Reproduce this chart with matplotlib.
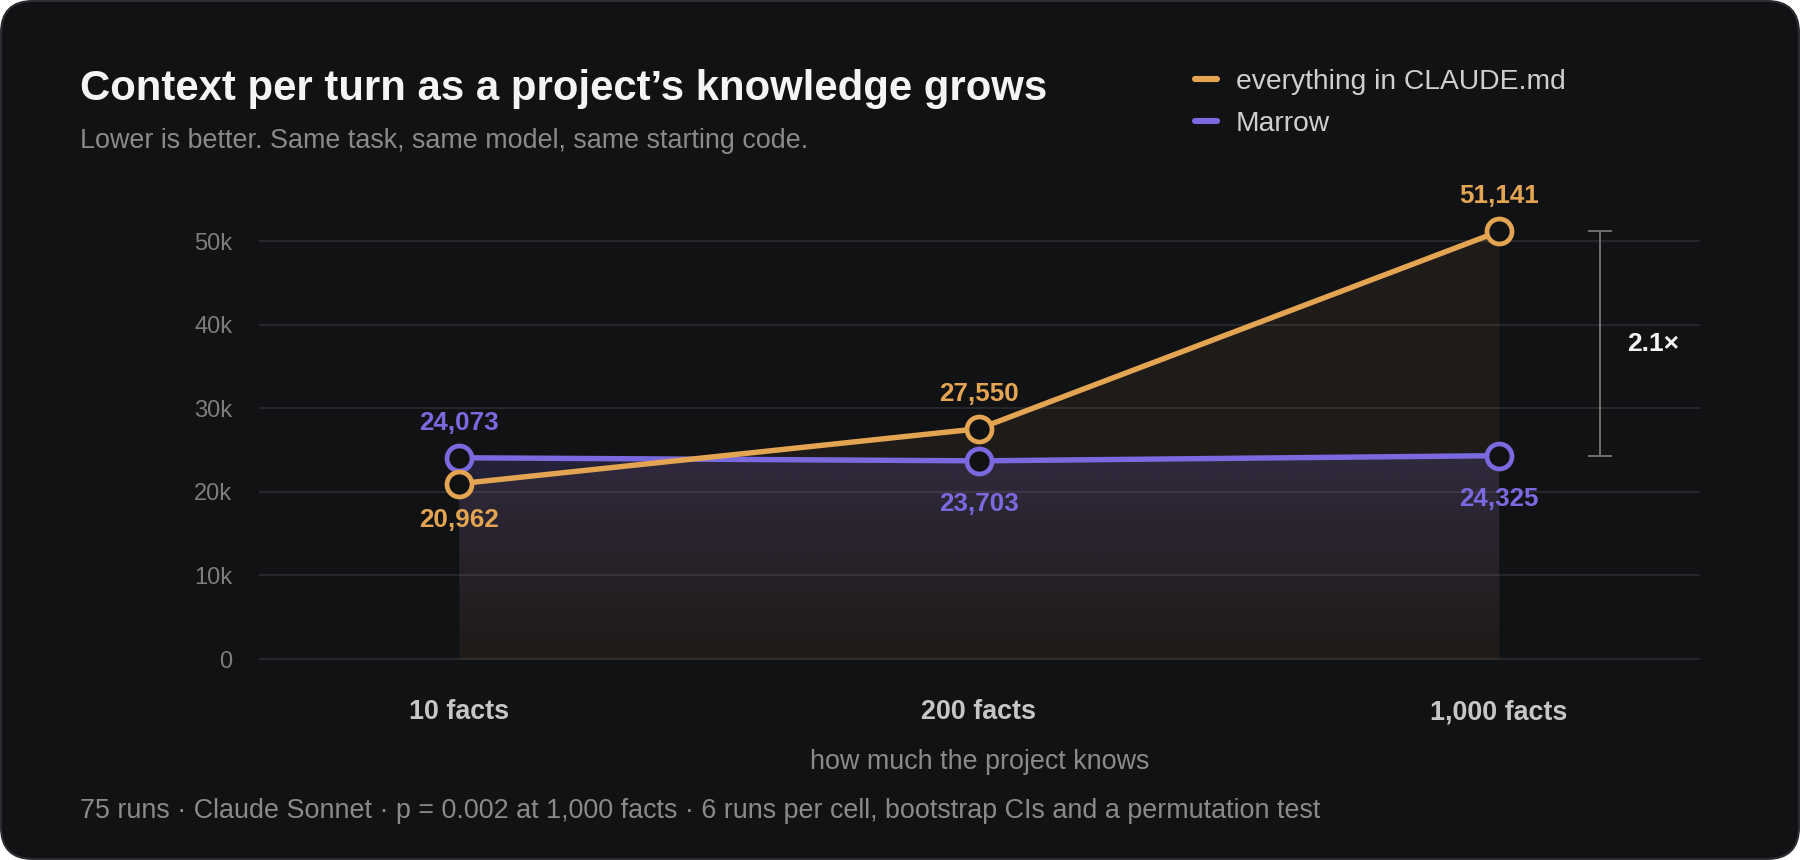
import numpy as np
import matplotlib
matplotlib.use("Agg")
import matplotlib.pyplot as plt
from matplotlib.patches import FancyBboxPatch, PathPatch
from matplotlib.transforms import IdentityTransform, blended_transform_factory
from matplotlib.colors import to_rgb

# ---- data ----
categories = ["10 facts", "200 facts", "1,000 facts"]
claude_md = [20962, 27550, 51141]
marrow = [24073, 23703, 24325]
series_names = ["everything in CLAUDE.md", "Marrow"]
y_ticks = [0, 10000, 20000, 30000, 40000, 50000]
y_tick_labels = ["0", "10k", "20k", "30k", "40k", "50k"]
title = "Context per turn as a project\u2019s knowledge grows"
subtitle = "Lower is better. Same task, same model, same starting code."
x_label = "how much the project knows"
footnote = ("75 runs \u00b7 Claude Sonnet \u00b7 p = 0.002 at 1,000 facts \u00b7 "
            "6 runs per cell, bootstrap CIs and a permutation test")

# ---- style ----
W, H = 1800, 860
BG = "#111214"
ORANGE = "#E4A553"
PURPLE = "#7B69E0"
FONT = "Liberation Sans"
plt.rcParams["font.family"] = [FONT, "DejaVu Sans"]

fig = plt.figure(figsize=(W / 100, H / 100), dpi=100, facecolor="white")

# card
card = FancyBboxPatch((1, 1), W - 2, H - 2,
                      boxstyle="round,pad=0,rounding_size=32",
                      facecolor=BG, edgecolor="#2c2d30", linewidth=1.5,
                      transform=IdentityTransform(), zorder=-10)
fig.patches.append(card)

def fx(px):
    return px / W

def fy(py):
    return 1 - py / H

# titles
fig.text(fx(80), fy(100), title, fontsize=30.2, fontweight="bold",
         color="#f4f4f4", va="baseline", ha="left")
fig.text(fx(80), fy(148), subtitle, fontsize=19.35, color="#8a8a8a",
         va="baseline", ha="left")

# legend (manual)
for i, (name, col) in enumerate(zip(series_names, [ORANGE, PURPLE])):
    yy = 79 + i * 42
    fig.add_artist(plt.Line2D([fx(1195), fx(1217)], [fy(yy), fy(yy)],
                              color=col, lw=4.4, solid_capstyle="round",
                              transform=fig.transFigure))
    fig.text(fx(1236), fy(yy), name, fontsize=20.3, color="#cfcfcf",
             va="center_baseline", ha="left")

# axes
ax_left, ax_right = 260, 1699
y0_px, ymax = 659, 56000
px_per_unit = (659 - 241) / 50000
ax_h = ymax * px_per_unit
ax = fig.add_axes([fx(ax_left), (H - y0_px) / H,
                   (ax_right - ax_left) / W, ax_h / H])
ax.set_facecolor("none")
for s in ax.spines.values():
    s.set_visible(False)

x = np.arange(len(categories))

# orange fill (flat, faint)
ax.fill_between(x, claude_md, 0, color=ORANGE, alpha=0.065, lw=0, zorder=1)

# purple gradient fill
poly = ax.fill_between(x, marrow, 0, color="none", lw=0)
path = poly.get_paths()[0]
clip = PathPatch(path, transform=ax.transData, facecolor="none",
                 edgecolor="none")
ax.add_patch(clip)
n = 256
rgba = np.zeros((n, 1, 4))
rgba[..., :3] = to_rgb(PURPLE)
rgba[..., 3] = np.linspace(0.19, 0.0, n).reshape(-1, 1)
im = ax.imshow(rgba, extent=[x[0], x[-1], 0, max(marrow)], aspect="auto",
               origin="upper", zorder=1.5, interpolation="bilinear")
im.set_clip_path(clip)

# lines
lw = 3.9
ax.plot(x, marrow, color=PURPLE, lw=lw, zorder=3, solid_capstyle="round")
ax.plot(x, claude_md, color=ORANGE, lw=lw, zorder=3.5, solid_capstyle="round")
ax.plot(x, marrow, ls="none", marker="o", ms=18, mfc=BG, mec=PURPLE,
        mew=3.4, zorder=5)
ax.plot(x, claude_md, ls="none", marker="o", ms=18, mfc=BG, mec=ORANGE,
        mew=3.4, zorder=5)

# limits
ax.set_xlim(x[0] - 199 / 520, x[-1] + 200 / 520)
ax.set_ylim(0, ymax)

# grid & ticks
ax.set_yticks(y_ticks)
ax.set_yticklabels(y_tick_labels)
ax.yaxis.grid(True, color="#27282b", lw=1.4, zorder=0)
for gl in ax.get_ygridlines():
    gl.set_clip_on(False)
ax.set_axisbelow(True)
ax.tick_params(axis="y", length=0, pad=20, labelsize=17, labelcolor="#7d7d7d")
ax.set_xticks(x)
ax.set_xticklabels([])
ax.tick_params(axis="x", length=0)

# category labels on a common baseline
cat_tr = blended_transform_factory(ax.transData, fig.transFigure)
for xi, cat in zip(x, categories):
    ax.text(xi, fy(719), cat, transform=cat_tr, ha="center", va="baseline",
            fontsize=19.4, fontweight="bold", color="#c6c6c6", clip_on=False)

# value labels
pt = 72 / 100
def label(xi, v, col, off_px):
    ax.annotate(f"{v:,}", (xi, v), xytext=(0, -off_px * pt),
                textcoords="offset points", ha="center", va="center",
                fontsize=18.7, fontweight="bold", color=col, zorder=6)

for i, v in enumerate(claude_md):
    above = v >= marrow[i]
    label(i, v, ORANGE, -35 if above else 36)
for i, v in enumerate(marrow):
    above = v > claude_md[i]
    label(i, v, PURPLE, -35 if above else 43)

# ratio bracket
xb = x[-1] + 101 / 520
lo, hi = marrow[-1], claude_md[-1]
ax.plot([xb, xb], [lo, hi], color="#6f6f6f", lw=1.4, marker="_", ms=17,
        mew=1.4, clip_on=False, zorder=4)
ax.text(x[-1] + 128 / 520, (lo + hi) / 2, f"{hi / lo:.1f}\u00d7",
        fontsize=19, fontweight="bold", color="#f4f4f4", ha="left",
        va="center", clip_on=False)

# x label and footnote
fig.text(0.5 * (fx(ax_left) + fx(ax_right)), fy(762), x_label, fontsize=19.4,
         color="#8a8a8a", ha="center", va="center")
fig.text(fx(80), fy(811), footnote, fontsize=19.4, color="#8a8a8a",
         ha="left", va="center")

fig.savefig("out.png", dpi=100, facecolor="white")
